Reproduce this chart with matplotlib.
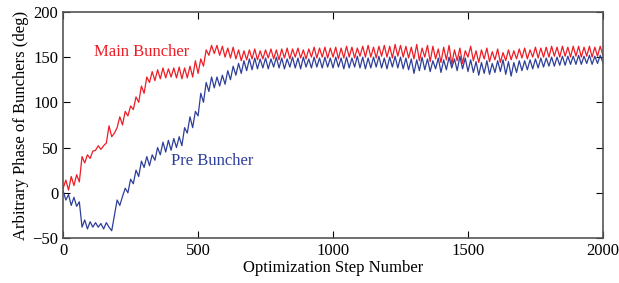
import numpy as np
import matplotlib
matplotlib.use("Agg")
import matplotlib.pyplot as plt

steps = list(range(0, 2001, 10))

main_buncher = [
    5, 14, 3, 18, 8, 20, 12, 40, 33, 42,
    38, 46, 47, 52, 48, 52, 55, 74, 62, 66,
    72, 84, 75, 90, 85, 96, 92, 106, 100, 118,
    110, 128, 122, 134, 124, 136, 126, 138, 127, 137,
    128, 138, 127, 139, 126, 138, 127, 140, 128, 146,
    132, 148, 140, 158, 152, 163, 154, 163, 152, 162,
    150, 160, 149, 161, 148, 158, 146, 157,
    147, 158, 148, 159, 147, 157, 148, 158, 149, 159, 148, 158, 147, 159, 149, 160,
    148, 159, 150, 160, 149, 158, 148, 159, 150, 161, 149, 160, 150, 161, 149, 160,
    150, 161, 148, 160, 149, 162, 150, 161, 149, 160, 151, 162, 150, 163, 150,
    161, 149, 162, 151, 163, 150, 162, 149, 164, 151, 163, 150, 162, 149, 161,
    148, 164, 146, 160, 150, 163, 145, 162, 148, 159, 144, 161, 147, 163, 142, 158, 146, 160, 143, 157,
    150, 162, 146, 157, 144, 158, 148, 160, 145, 156, 147, 159, 144, 155, 146, 158, 147, 157, 148, 159,
    149, 160, 148, 158, 150, 161, 149, 160, 150, 161, 150, 162, 151, 161, 150, 162,
    151, 161, 150, 162, 151, 162, 150, 161, 151, 162, 150, 161, 151, 162, 152,
]

pre_buncher = [
    2, -8, -2, -14, -5, -15, -10, -38, -30, -40,
    -32, -38, -33, -38, -34, -40, -33, -38, -42, -25,
    -8, -14, -4, 5, 0, 15, 10, 25, 18, 35,
    28, 40, 30, 42, 36, 50, 42, 56, 45, 58,
    47, 60, 50, 62, 52, 72, 66, 84, 72, 90,
    85, 110, 100, 122, 112, 128, 116, 128, 118, 130,
    120, 135, 125, 140, 130, 143, 132, 146, 135, 148,
    136,
    149, 137, 148, 138, 149, 137, 148, 139, 150, 138, 149, 137, 148, 139, 150,
    138, 149, 137, 150, 139, 148, 138, 150, 139, 149, 138, 150, 139, 149,
    138, 150, 139, 149, 137, 150, 138, 149, 139, 151, 138, 150, 137, 149, 138,
    150, 139, 151, 138, 149, 137, 150, 139, 151, 138, 150, 137, 149, 136, 148,
    132, 147, 135, 150, 136, 148, 134, 146, 137, 149, 133, 147, 136, 150, 138, 148, 135, 151, 137, 149,
    134, 147, 133, 145, 130, 144, 132, 146, 131, 143, 133, 146, 134, 147, 131, 145, 129, 144, 133, 146,
    135, 146, 136, 147, 137, 148, 138, 149, 139, 149, 140, 150, 140, 150, 141, 151,
    141, 151, 142, 151, 142, 152, 142, 151, 143, 152, 142, 151, 143, 152, 144,
]

x_ticks = [0, 500, 1000, 1500, 2000]
y_ticks = [-50, 0, 50, 100, 150, 200]

plt.rcParams['font.family'] = ['Liberation Serif', 'DejaVu Serif']

fig = plt.figure(figsize=(6.19, 2.83), dpi=100)
ax = fig.add_axes([0.102, 0.159, 0.872, 0.799])

red = '#ee1c25'
blue = '#2e3f99'
ax.plot(steps, main_buncher, color=red, lw=0.9)
ax.plot(steps, pre_buncher, color=blue, lw=0.9)

ax.set_xlim(0, 2000)
ax.set_ylim(-50, 200)
ax.set_xticks(x_ticks)
ax.set_yticks(y_ticks)
ax.tick_params(direction='in', top=True, right=True, length=5, labelsize=12, width=0.8)
for s in ax.spines.values():
    s.set_color('#555555')
    s.set_linewidth(1.2)

ax.set_xlabel('Optimization Step Number', fontsize=12, labelpad=1)
ax.set_ylabel('Arbitrary Phase of Bunchers (deg)', fontsize=12, labelpad=2)

ax.text(292, 156, 'Main Buncher', color=red, fontsize=12, ha='center', va='center')
ax.text(552, 35, 'Pre Buncher', color=blue, fontsize=12, ha='center', va='center')

fig.savefig('out.png', dpi=100)
